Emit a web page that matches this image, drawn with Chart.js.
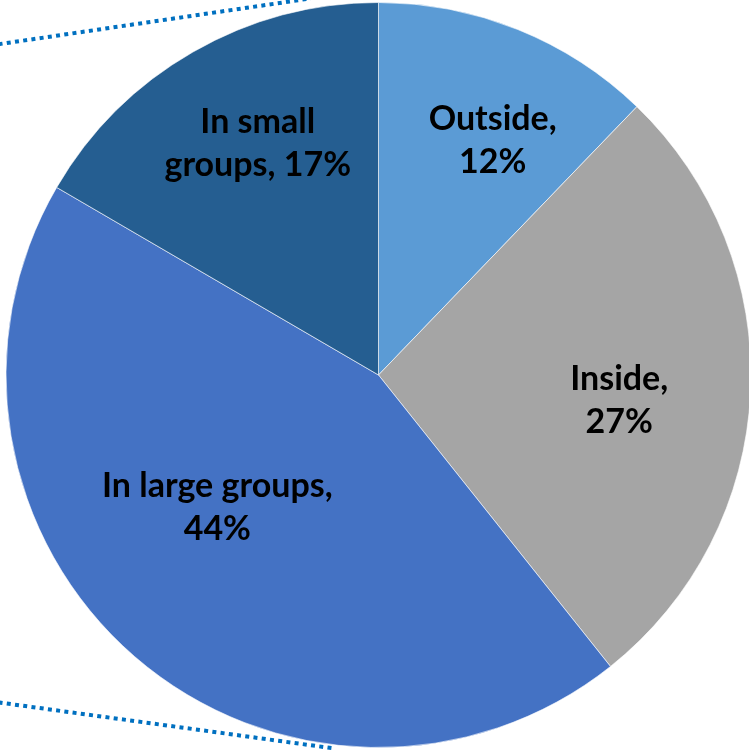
<!DOCTYPE html>
<html>
<head>
<meta charset="utf-8">
<script src="https://cdn.jsdelivr.net/npm/chart.js@4/dist/chart.umd.min.js"></script>
<style>
html,body{margin:0;padding:0;background:#fff;overflow:hidden;}
#wrap{width:749px;height:750px;overflow:hidden;position:relative;}
canvas{display:block;}
</style>
</head>
<body>
<div id="wrap"><canvas id="c" width="753" height="750"></canvas></div>
<script>
const categories = ["Outside", "Inside", "In large groups", "In small groups"];
const values = [12.2, 27.1, 44.1, 16.6];
const labelLines = [["Outside,", "12%"], ["Inside,", "27%"], ["In large groups,", "44%"], ["In small", "groups, 17%"]];
const colors = ["#5B9BD5", "#A5A5A5", "#4472C4", "#255E91"];

const connectorPlugin = {
  id: 'connectors',
  beforeDatasetsDraw(chart) {
    const arc = chart.getDatasetMeta(0).data[0];
    if (!arc) return;
    const cx = arc.x, cy = arc.y, R = arc.outerRadius;
    const lines = [
      [[-1.02, -0.888], [-0.182, -1.011]],
      [[-1.02, 0.879], [-0.115, 1.003]]
    ];
    const ctx = chart.ctx;
    ctx.save();
    ctx.strokeStyle = '#0070C0';
    ctx.lineWidth = 4;
    ctx.lineCap = 'butt';
    ctx.setLineDash([4, 4.3]);
    lines.forEach(l => {
      ctx.beginPath();
      ctx.moveTo(cx + l[0][0] * R, cy + l[0][1] * R);
      ctx.lineTo(cx + l[1][0] * R, cy + l[1][1] * R);
      ctx.stroke();
    });
    ctx.restore();
  }
};

const labelPlugin = {
  id: 'sliceLabels',
  afterDatasetsDraw(chart) {
    const meta = chart.getDatasetMeta(0);
    const ctx = chart.ctx;
    const fr = [0.70, 0.65, 0.56, 0.70];
    const shift = [0.07, 0.06, 0.17, 0.04];
    ctx.save();
    ctx.fillStyle = '#000';
    ctx.font = 'bold 34px Lato, "Open Sans", sans-serif';
    ctx.textAlign = 'center';
    ctx.textBaseline = 'middle';
    meta.data.forEach((a, i) => {
      const mid = (a.startAngle + a.endAngle) / 2 + shift[i];
      const r = a.outerRadius * fr[i];
      const x = a.x + Math.cos(mid) * r;
      const y = a.y + Math.sin(mid) * r;
      const lines = labelLines[i];
      const lh = 43;
      lines.forEach((t, j) => {
        ctx.fillText(t, x, y + (j - (lines.length - 1) / 2) * lh);
      });
    });
    ctx.restore();
  }
};

new Chart(document.getElementById('c'), {
  type: 'pie',
  data: {
    labels: categories,
    datasets: [{
      data: values,
      backgroundColor: colors,
      borderColor: 'rgba(255,255,255,0.6)',
      borderWidth: 1
    }]
  },
  options: {
    responsive: false,
    animation: false,
    layout: { padding: { left: 4, top: 2, bottom: 2, right: 0 } },
    plugins: { legend: { display: false }, tooltip: { enabled: false } }
  },
  plugins: [connectorPlugin, labelPlugin]
});
</script>
</body>
</html>
